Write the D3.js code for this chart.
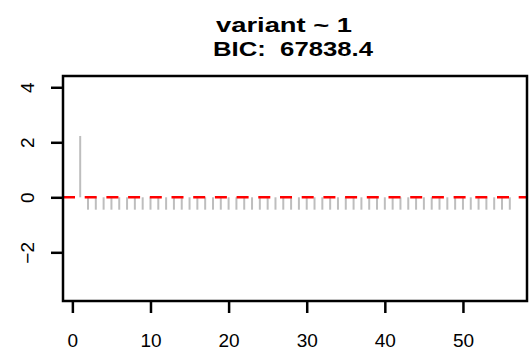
<!DOCTYPE html>
<html lang="en">
<head>
    <meta charset="UTF-8">
    <title>variant ~ 1</title>
    <script src="https://d3js.org/d3.v7.min.js"></script>
    <style>
        html, body {
            margin: 0;
            background: #fff;
            font-family: "Liberation Sans", Arial, sans-serif;
        }
    </style>
</head>
<body>
    <div id="vis"></div>
    <script>
        // index of each residual and its value
        var lags = [1, 2, 3, 4, 5, 6, 7, 8, 9, 10, 11, 12, 13, 14, 15, 16, 17, 18, 19, 20,
                    21, 22, 23, 24, 25, 26, 27, 28, 29, 30, 31, 32, 33, 34, 35, 36, 37, 38, 39, 40,
                    41, 42, 43, 44, 45, 46, 47, 48, 49, 50, 51, 52, 53, 54, 55, 56];
        var values = [2.23, -0.45, -0.45, -0.45, -0.45, -0.45, -0.45, -0.45, -0.45, -0.45,
                      -0.45, -0.45, -0.45, -0.45, -0.45, -0.45, -0.45, -0.45, -0.45, -0.45,
                      -0.45, -0.45, -0.45, -0.45, -0.45, -0.45, -0.45, -0.45, -0.45, -0.45,
                      -0.45, -0.45, -0.45, -0.45, -0.45, -0.45, -0.45, -0.45, -0.45, -0.45,
                      -0.45, -0.45, -0.45, -0.45, -0.45, -0.45, -0.45, -0.45, -0.45, -0.45,
                      -0.45, -0.45, -0.45, -0.45, -0.45, -0.45];
        var xTicks = [0, 10, 20, 30, 40, 50];
        var yTicks = [-2, 0, 2, 4];
        var titleLines = ["variant ~ 1", "BIC:  67838.4"];

        var width = 529, height = 358;
        var margin = {top: 76, right: 2, bottom: 57, left: 63};

        var svg = d3.select('#vis')
            .append('svg')
                .attr('width', width)
                .attr('height', height);

        var x = d3.scaleLinear()
            .domain([-1.2, 58.2])
            .range([margin.left, width - margin.right]);

        var y = d3.scaleLinear()
            .domain([-3.77, 4.41])
            .range([height - margin.bottom, margin.top]);

        // spikes
        svg.selectAll('.spike')
            .data(lags)
            .enter()
            .append('line')
                .attr('class', 'spike')
                .attr('x1', function(d) { return x(d); })
                .attr('x2', function(d) { return x(d); })
                .attr('y1', y(0))
                .attr('y2', function(d, i) { return y(values[i]); })
                .attr('stroke', '#bebebe')
                .attr('stroke-width', 2);

        // zero reference line
        svg.append('line')
            .attr('x1', x.range()[0])
            .attr('x2', x.range()[1])
            .attr('y1', y(0))
            .attr('y2', y(0))
            .attr('stroke', '#ff0000')
            .attr('stroke-width', 2.5)
            .attr('stroke-dasharray', '12,9.7');

        // box
        svg.append('rect')
            .attr('x', x.range()[0])
            .attr('y', y.range()[1])
            .attr('width', x.range()[1] - x.range()[0])
            .attr('height', y.range()[0] - y.range()[1])
            .attr('fill', 'none')
            .attr('stroke', '#000')
            .attr('stroke-width', 2.5);

        // axes
        var xAxis = svg.append('g')
            .attr('transform', 'translate(0,' + y.range()[0] + ')')
            .call(d3.axisBottom(x).tickValues(xTicks).tickSize(12).tickPadding(21).tickSizeOuter(0));

        var yAxis = svg.append('g')
            .attr('transform', 'translate(' + x.range()[0] + ',0)')
            .call(d3.axisLeft(y).tickValues(yTicks).tickSize(12).tickSizeOuter(0)
                .tickFormat(function(d) { return d < 0 ? '\u2212' + Math.abs(d) : d; }));

        [xAxis, yAxis].forEach(function(a) {
            a.select('.domain').remove();
            a.selectAll('line').attr('stroke', '#000').attr('stroke-width', 2.5);
            a.attr('font-size', 19).attr('font-family', '"Liberation Sans", Arial, sans-serif');
            a.selectAll('text').attr('fill', '#000');
        });

        yAxis.selectAll('text')
            .attr('transform', 'translate(-36,0) rotate(-90)')
            .attr('text-anchor', 'middle')
            .attr('dy', '0.35em')
            .attr('x', 0)
            .attr('y', 0);

        // title
        svg.selectAll('.title')
            .data(titleLines)
            .enter()
            .append('text')
                .attr('class', 'title')
                .attr('x', function(d, i) { return i === 0 ? 284 : 293; })
                .attr('y', function(d, i) { return 32 + i * 24; })
                .attr('text-anchor', 'middle')
                .attr('textLength', function(d, i) { return i === 0 ? 136 : 160; })
                .attr('lengthAdjust', 'spacingAndGlyphs')
                .style('font-weight', 'bold')
                .style('font-size', '21px')
                .style('white-space', 'pre')
                .text(function(d) { return d; });
    </script>
</body>
</html>
